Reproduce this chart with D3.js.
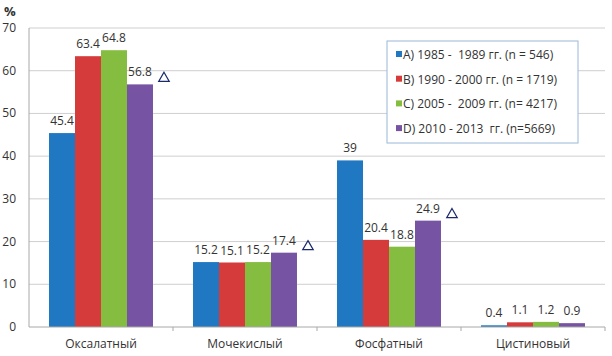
<!DOCTYPE html>
<html>
<head>
<meta charset="utf-8">
<script src="https://cdn.jsdelivr.net/npm/d3@7"></script>
<style>
  body { margin: 0; background: #fff; }
  text { font-family: "Open Sans", sans-serif; fill: #333; }
</style>
</head>
<body>
<svg id="chart" width="612" height="356"></svg>
<script>
// categories and series
const categories = ["Оксалатный", "Мочекислый", "Фосфатный", "Цистиновый"];
const seriesNames = [
  "A) 1985 -  1989 гг. (n = 546)",
  "B) 1990 - 2000 гг. (n = 1719)",
  "C) 2005 -  2009 гг. (n= 4217)",
  "D) 2010 - 2013  гг. (n=5669)"
];
const seriesColors = ["#1f78c1", "#d63b3b", "#84bd3f", "#7653a3"];
const valuesA = [45.4, 15.2, 39, 0.4];
const valuesB = [63.4, 15.1, 20.4, 1.1];
const valuesC = [64.8, 15.2, 18.8, 1.2];
const valuesD = [56.8, 17.4, 24.9, 0.9];
const marked = [true, true, true, false]; // triangle after last bar
const yTicks = [0, 10, 20, 30, 40, 50, 60, 70];

const allValues = [valuesA, valuesB, valuesC, valuesD];

const svg = d3.select("#chart");
const margin = { top: 28, right: 7, bottom: 29, left: 29 };
const W = 612, H = 356;

const x = d3.scaleBand()
  .domain(categories)
  .range([margin.left, W - margin.right])
  .padding(0);

const xs = d3.scaleBand()
  .domain(d3.range(seriesNames.length))
  .range([0, x.bandwidth()])
  .paddingInner(0)
  .paddingOuter(0.77);

const y = d3.scaleLinear()
  .domain([0, 70])
  .range([H - margin.bottom, margin.top]);

// gridlines
svg.append("g")
  .selectAll("line")
  .data(yTicks.filter(d => d > 0))
  .enter().append("line")
  .attr("x1", margin.left)
  .attr("x2", W - margin.right)
  .attr("y1", d => y(d))
  .attr("y2", d => y(d))
  .attr("stroke", "#cfcfcf")
  .attr("stroke-width", 1);

// y tick labels
svg.append("g")
  .selectAll("text")
  .data(yTicks)
  .enter().append("text")
  .attr("x", 16)
  .attr("y", d => y(d) + 4)
  .attr("text-anchor", "end")
  .style("font-size", "12px")
  .text(d => d);

svg.append("text")
  .attr("x", 4)
  .attr("y", 16)
  .style("font-size", "13px")
  .style("font-weight", "bold")
  .text("%");

// bars
const groups = svg.append("g")
  .selectAll("g")
  .data(categories)
  .enter().append("g")
  .attr("transform", d => `translate(${x(d)},0)`);

groups.selectAll("rect")
  .data((c, ci) => allValues.map((vals, si) => ({ si, v: vals[ci] })))
  .enter().append("rect")
  .attr("x", d => xs(d.si))
  .attr("width", xs.bandwidth())
  .attr("y", d => y(d.v))
  .attr("height", d => y(0) - y(d.v))
  .attr("fill", d => seriesColors[d.si]);

groups.selectAll("text.val")
  .data((c, ci) => allValues.map((vals, si) => ({ si, v: vals[ci] })))
  .enter().append("text")
  .attr("class", "val")
  .attr("x", d => xs(d.si) + xs.bandwidth() / 2)
  .attr("y", d => y(d.v) - 8)
  .attr("text-anchor", "middle")
  .style("font-size", "12px")
  .text(d => d.v);

// triangles after the last series bar
const tri = d3.symbol().type(d3.symbolTriangle).size(48);
groups.filter((c, ci) => marked[ci])
  .append("path")
  .attr("d", tri)
  .attr("transform", (c) => {
    const ci = categories.indexOf(c);
    const last = seriesNames.length - 1;
    const cx = xs(last) + xs.bandwidth() + 11;
    const cy = y(allValues[last][ci]) - 6;
    return `translate(${cx},${cy})`;
  })
  .attr("fill", "none")
  .attr("stroke", "#1a2a6c")
  .attr("stroke-width", 1.2);

// axes lines
svg.append("line")
  .attr("x1", margin.left).attr("x2", margin.left)
  .attr("y1", y(70)).attr("y2", y(0))
  .attr("stroke", "#a8a8a8");

svg.append("line")
  .attr("x1", margin.left).attr("x2", W - margin.right)
  .attr("y1", y(0)).attr("y2", y(0))
  .attr("stroke", "#a8a8a8");

// ticks between categories
svg.append("g")
  .selectAll("line")
  .data(categories.slice(1).concat(["end"]))
  .enter().append("line")
  .attr("x1", d => d === "end" ? W - margin.right : x(d))
  .attr("x2", d => d === "end" ? W - margin.right : x(d))
  .attr("y1", y(0))
  .attr("y2", y(0) + 4)
  .attr("stroke", "#a8a8a8");

// category labels
svg.append("g")
  .selectAll("text")
  .data(categories)
  .enter().append("text")
  .attr("x", d => x(d) + x.bandwidth() / 2)
  .attr("y", H - 8)
  .attr("text-anchor", "middle")
  .style("font-size", "12px")
  .text(d => d);

// legend
const legend = svg.append("g").attr("transform", "translate(387,41)");
legend.append("rect")
  .attr("width", 191)
  .attr("height", 102)
  .attr("fill", "#fff")
  .attr("stroke", "#9ab8d8");

const li = legend.selectAll("g")
  .data(seriesNames)
  .enter().append("g")
  .attr("transform", (d, i) => `translate(9,${17 + i * 24.7})`);

li.append("rect")
  .attr("y", -7)
  .attr("width", 6)
  .attr("height", 6)
  .attr("fill", (d, i) => seriesColors[i]);

li.append("text")
  .attr("x", 7)
  .attr("y", 1)
  .style("font-size", "12px")
  .style("white-space", "pre")
  .text(d => d);
</script>
</body>
</html>
